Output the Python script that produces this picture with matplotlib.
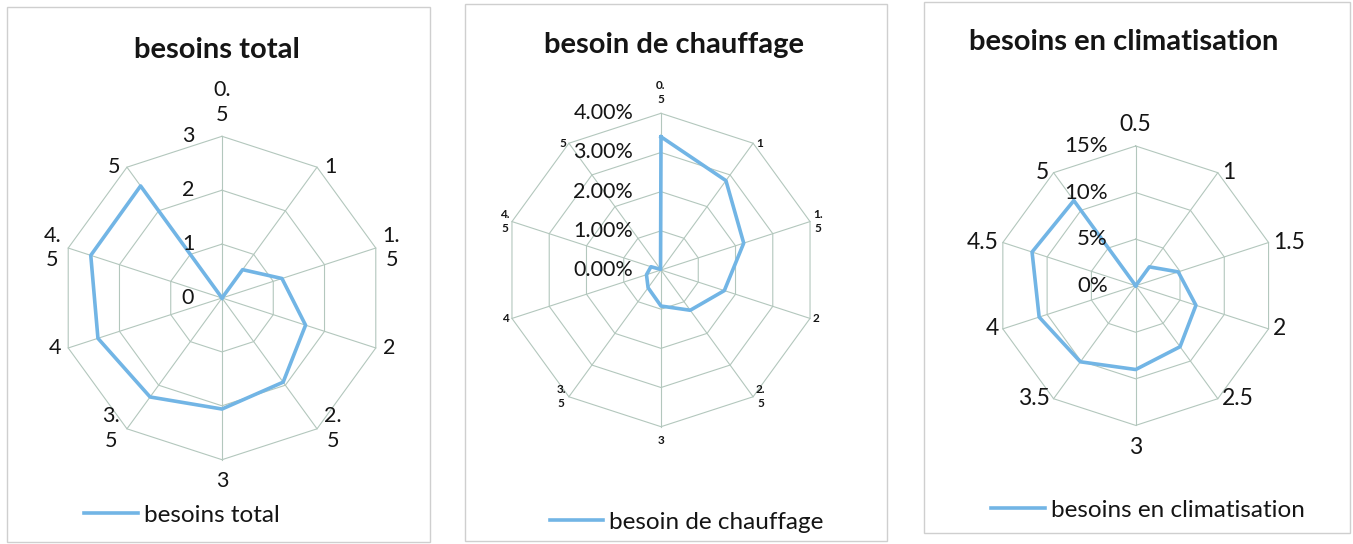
import numpy as np
import matplotlib
matplotlib.use('Agg')
import matplotlib.pyplot as plt
from matplotlib.patches import Rectangle

plt.rcParams['font.family'] = ['Lato', 'DejaVu Sans']

W, H = 1353, 544

# categories (same ten axes on every chart)
categories = ['0.5', '1', '1.5', '2', '2.5', '3', '3.5', '4', '4.5', '5']
wrapped = ['0.\n5', '1', '1.\n5', '2', '2.\n5', '3', '3.\n5', '4', '4.\n5', '5']

# besoins total
total = [0.0, 0.65, 1.17, 1.63, 1.93, 2.06, 2.27, 2.42, 2.56, 2.57]
total_rings = [0, 1, 2, 3]
total_ticklabels = ['0', '1', '2', '3']

# besoin de chauffage (fractions)
chauffage = [0.0340, 0.0282, 0.0222, 0.0170, 0.0127, 0.0092, 0.0056, 0.0039, 0.0027, 0.0002]
chauffage_rings = [0, 0.01, 0.02, 0.03, 0.04]
chauffage_ticklabels = ['0.00%', '1.00%', '2.00%', '3.00%', '4.00%']

# besoins en climatisation (fractions)
clim = [0.0, 0.025, 0.048, 0.068, 0.081, 0.090, 0.101, 0.109, 0.117, 0.113]
clim_rings = [0, 0.05, 0.10, 0.15]
clim_ticklabels = ['0%', '5%', '10%', '15%']

LINE = '#72B5E5'
GRID = '#b3c7bd'
BORDER = '#cfcfcf'
TXT = '#151515'


def px_to_fig(x, y):
    return x / W, 1 - y / H


def radar(cx, cy, rad, values, rings, ticklabels, catlabels, name,
          cat_fs, tick_fs, padx, pady, cat_weight='normal'):
    x0, y0 = px_to_fig(cx - rad, cy + rad)
    ax = fig.add_axes([x0, y0, 2 * rad / W, 2 * rad / H], projection='polar')
    ax.set_theta_zero_location('N')
    ax.set_theta_direction(-1)
    ax.patch.set_alpha(0)
    ax.grid(False)
    ax.spines['polar'].set_visible(False)
    ax.set_xticks([])
    ax.set_yticks([])
    rmax = rings[-1]
    ax.set_ylim(0, rmax)

    n = len(values)
    theta = np.arange(n) * 2 * np.pi / n
    tc = np.r_[theta, theta[0]]

    # polygon grid
    for v in rings[1:]:
        ax.plot(tc, [v] * (n + 1), color=GRID, lw=0.8, clip_on=False, zorder=1)
    for t in theta:
        ax.plot([t, t], [0, rmax], color=GRID, lw=0.8, clip_on=False, zorder=1)

    vals = np.r_[values, values[0]]
    ax.plot(tc, vals, color=LINE, lw=2.6, clip_on=False, zorder=3, label=name)

    # radial value labels, left of the vertical axis
    for v, lab in zip(rings, ticklabels):
        ax.annotate(lab, (0, v), xytext=(-20, 0), textcoords='offset points',
                    ha='right', va='center', fontsize=tick_fs, color=TXT,
                    zorder=4)

    # category labels
    for t, lab in zip(theta, catlabels):
        s, c = np.sin(t), np.cos(t)
        if abs(s) < 0.1:
            ha = 'center'
            va = 'bottom' if c > 0 else 'top'
            off = (0, pady if c > 0 else -pady)
        else:
            ha = 'left' if s > 0 else 'right'
            va = 'center'
            off = (padx * np.sign(s), 0)
        ax.annotate(lab, (t, rmax), xytext=off, textcoords='offset points',
                    ha=ha, va=va, fontsize=cat_fs, color=TXT,
                    fontweight=cat_weight,
                    multialignment='center', linespacing=1.3)
    return ax


fig = plt.figure(figsize=(W / 100, H / 100), dpi=100)

# panel frames
for (a, b, c, d) in [(7, 7, 430, 542), (465, 4, 887, 541), (924, 2, 1350, 533)]:
    fx, fy = px_to_fig(a, d)
    fig.add_artist(Rectangle((fx, fy), (c - a) / W, (d - b) / H,
                             transform=fig.transFigure, fill=False,
                             ec=BORDER, lw=1))

ax1 = radar(222, 298, 161.7, total, total_rings, total_ticklabels, wrapped,
            'besoins total', 15.5, 15.5, 5, 8)
ax2 = radar(661, 270, 156.7, chauffage, chauffage_rings, chauffage_ticklabels,
            wrapped, 'besoin de chauffage', 8.5, 15.5, 2, 6, 'bold')
ax3 = radar(1135.7, 285.7, 139.7, clim, clim_rings, clim_ticklabels, categories,
            'besoins en climatisation', 16.5, 16, 3, 8)

# titles
for (x, y, txt) in [(216.5, 58, 'besoins total'),
                    (674, 53, 'besoin de chauffage'),
                    (1123.5, 50, 'besoins en climatisation')]:
    fx, fy = px_to_fig(x, y)
    fig.text(fx, fy, txt, ha='center', va='baseline', fontsize=21,
             fontweight='bold', color=TXT)

# legends
for ax, (x, y) in [(ax1, (182, 515)), (ax2, (686.5, 522)), (ax3, (1148, 510))]:
    ax.legend(loc='center', bbox_to_anchor=px_to_fig(x, y),
              bbox_transform=fig.transFigure, frameon=False, fontsize=17.5,
              handlelength=2.2, handletextpad=0.25, borderpad=0, borderaxespad=0,
              labelcolor=TXT)

fig.savefig('out.png', dpi=100)
